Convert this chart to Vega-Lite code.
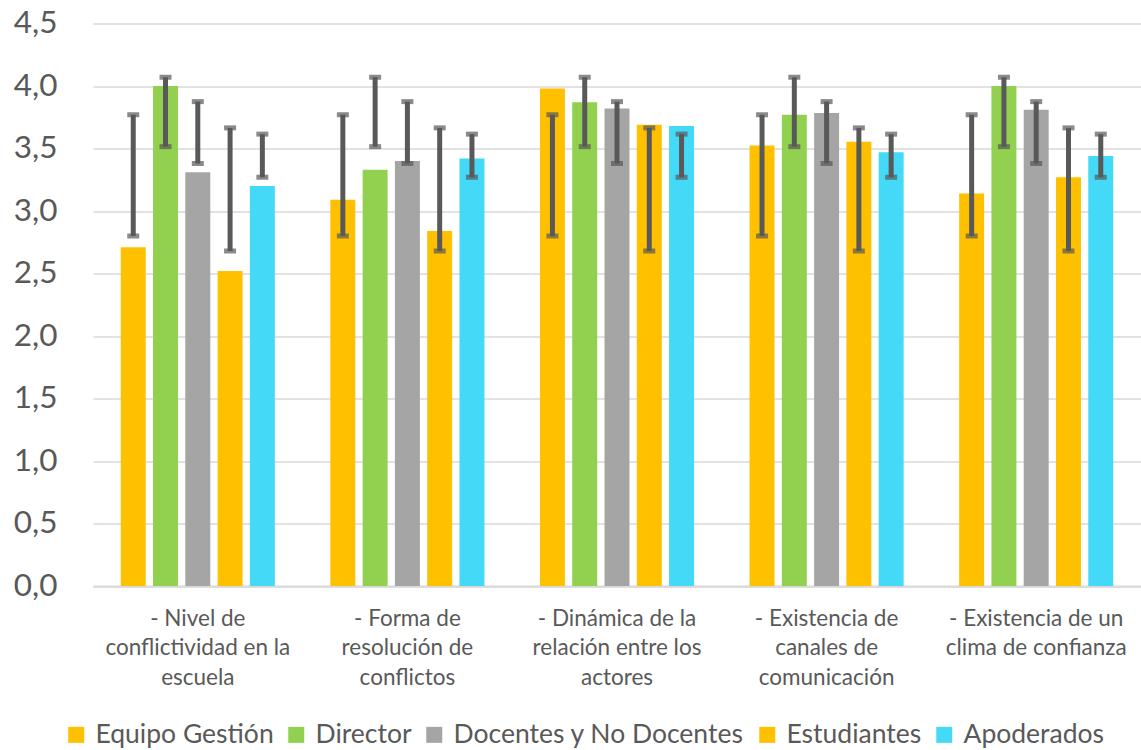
{
  "$schema": "https://vega.github.io/schema/vega-lite/v6.json",
  "width": 1048,
  "height": 562.5,
  "autosize": {"type": "none"},
  "padding": {"left": 93, "top": 23.5, "right": 0, "bottom": 164},
  "background": "white",
  "config": {"font": "Lato", "view": {"stroke": null}},
  "data": {
    "values": [
      {"cat": "- Nivel de|conflictividad en la|escuela", "serie": "Equipo Gestión", "value": 2.71, "lo": 2.80, "hi": 3.77},
      {"cat": "- Nivel de|conflictividad en la|escuela", "serie": "Director", "value": 4.0, "lo": 3.515, "hi": 4.07},
      {"cat": "- Nivel de|conflictividad en la|escuela", "serie": "Docentes y No Docentes", "value": 3.31, "lo": 3.38, "hi": 3.875},
      {"cat": "- Nivel de|conflictividad en la|escuela", "serie": "Estudiantes", "value": 2.52, "lo": 2.68, "hi": 3.665},
      {"cat": "- Nivel de|conflictividad en la|escuela", "serie": "Apoderados", "value": 3.20, "lo": 3.27, "hi": 3.615},
      {"cat": "- Forma de|resolución de|conflictos", "serie": "Equipo Gestión", "value": 3.09, "lo": 2.80, "hi": 3.77},
      {"cat": "- Forma de|resolución de|conflictos", "serie": "Director", "value": 3.33, "lo": 3.515, "hi": 4.07},
      {"cat": "- Forma de|resolución de|conflictos", "serie": "Docentes y No Docentes", "value": 3.40, "lo": 3.38, "hi": 3.875},
      {"cat": "- Forma de|resolución de|conflictos", "serie": "Estudiantes", "value": 2.84, "lo": 2.68, "hi": 3.665},
      {"cat": "- Forma de|resolución de|conflictos", "serie": "Apoderados", "value": 3.42, "lo": 3.27, "hi": 3.615},
      {"cat": "- Dinámica de la|relación entre los|actores", "serie": "Equipo Gestión", "value": 3.98, "lo": 2.80, "hi": 3.77},
      {"cat": "- Dinámica de la|relación entre los|actores", "serie": "Director", "value": 3.87, "lo": 3.515, "hi": 4.07},
      {"cat": "- Dinámica de la|relación entre los|actores", "serie": "Docentes y No Docentes", "value": 3.82, "lo": 3.38, "hi": 3.875},
      {"cat": "- Dinámica de la|relación entre los|actores", "serie": "Estudiantes", "value": 3.69, "lo": 2.68, "hi": 3.665},
      {"cat": "- Dinámica de la|relación entre los|actores", "serie": "Apoderados", "value": 3.68, "lo": 3.27, "hi": 3.615},
      {"cat": "- Existencia de|canales de|comunicación", "serie": "Equipo Gestión", "value": 3.525, "lo": 2.80, "hi": 3.77},
      {"cat": "- Existencia de|canales de|comunicación", "serie": "Director", "value": 3.77, "lo": 3.515, "hi": 4.07},
      {"cat": "- Existencia de|canales de|comunicación", "serie": "Docentes y No Docentes", "value": 3.785, "lo": 3.38, "hi": 3.875},
      {"cat": "- Existencia de|canales de|comunicación", "serie": "Estudiantes", "value": 3.555, "lo": 2.68, "hi": 3.665},
      {"cat": "- Existencia de|canales de|comunicación", "serie": "Apoderados", "value": 3.47, "lo": 3.27, "hi": 3.615},
      {"cat": "- Existencia de un|clima de confianza", "serie": "Equipo Gestión", "value": 3.14, "lo": 2.80, "hi": 3.77},
      {"cat": "- Existencia de un|clima de confianza", "serie": "Director", "value": 4.0, "lo": 3.515, "hi": 4.07},
      {"cat": "- Existencia de un|clima de confianza", "serie": "Docentes y No Docentes", "value": 3.81, "lo": 3.38, "hi": 3.875},
      {"cat": "- Existencia de un|clima de confianza", "serie": "Estudiantes", "value": 3.27, "lo": 2.68, "hi": 3.665},
      {"cat": "- Existencia de un|clima de confianza", "serie": "Apoderados", "value": 3.44, "lo": 3.27, "hi": 3.615}
    ]
  },
  "encoding": {
    "x": {
      "field": "cat", "type": "nominal", "sort": null,
      "scale": {"paddingInner": 0.23, "paddingOuter": 0.115},
      "axis": {
        "title": null, "labelAngle": 0, "labelFontSize": 22.5, "labelColor": "#595959",
        "labelExpr": "split(datum.label, '|')", "labelLineHeight": 29.5,
        "labelPadding": 21, "labelBaseline": "top", "labelOverlap": false, "labelLimit": 0,
        "ticks": false, "domain": true, "domainColor": "#D9D9D9", "domainWidth": 2
      }
    },
    "xOffset": {
      "field": "serie", "type": "nominal",
      "sort": ["Equipo Gestión", "Director", "Docentes y No Docentes", "Estudiantes", "Apoderados"],
      "scale": {"paddingInner": 0.226, "paddingOuter": 0.113}
    }
  },
  "layer": [
    {
      "mark": {"type": "bar"},
      "encoding": {
        "y": {
          "field": "value", "type": "quantitative",
          "scale": {"domain": [0, 4.5], "nice": false},
          "axis": {
            "title": null, "values": [0, 0.5, 1, 1.5, 2, 2.5, 3, 3.5, 4, 4.5],
            "labelExpr": "replace(format(datum.value, '.1f'), '.', ',')",
            "labelFontSize": 31.5, "labelColor": "#595959", "labelPadding": 36,
            "ticks": false, "domain": false, "grid": true, "gridColor": "#D9D9D9", "gridWidth": 1.5
          }
        },
        "color": {
          "field": "serie", "type": "nominal",
          "sort": ["Equipo Gestión", "Director", "Docentes y No Docentes", "Estudiantes", "Apoderados"],
          "scale": {
            "domain": ["Equipo Gestión", "Director", "Docentes y No Docentes", "Estudiantes", "Apoderados"],
            "range": ["#FFC000", "#92D050", "#A5A5A5", "#FFC000", "#45D9F8"]
          },
          "legend": {
            "title": null, "orient": "none", "direction": "horizontal",
            "legendX": -30, "legendY": 698,
            "labelFontSize": 26.5, "labelColor": "#595959", "labelOffset": 6,
            "symbolType": "square", "symbolSize": 256, "symbolStrokeWidth": 0,
            "columnPadding": 9, "padding": 0, "labelLimit": 0
          }
        }
      }
    },
    {
      "mark": {"type": "rule", "color": "#595959", "strokeWidth": 5},
      "encoding": {
        "y": {"field": "lo", "type": "quantitative"},
        "y2": {"field": "hi"}
      }
    },
    {
      "mark": {"type": "tick", "color": "#595959", "size": 12, "thickness": 5},
      "encoding": {"y": {"field": "lo", "type": "quantitative"}}
    },
    {
      "mark": {"type": "tick", "color": "#595959", "size": 12, "thickness": 5},
      "encoding": {"y": {"field": "hi", "type": "quantitative"}}
    }
  ]
}
